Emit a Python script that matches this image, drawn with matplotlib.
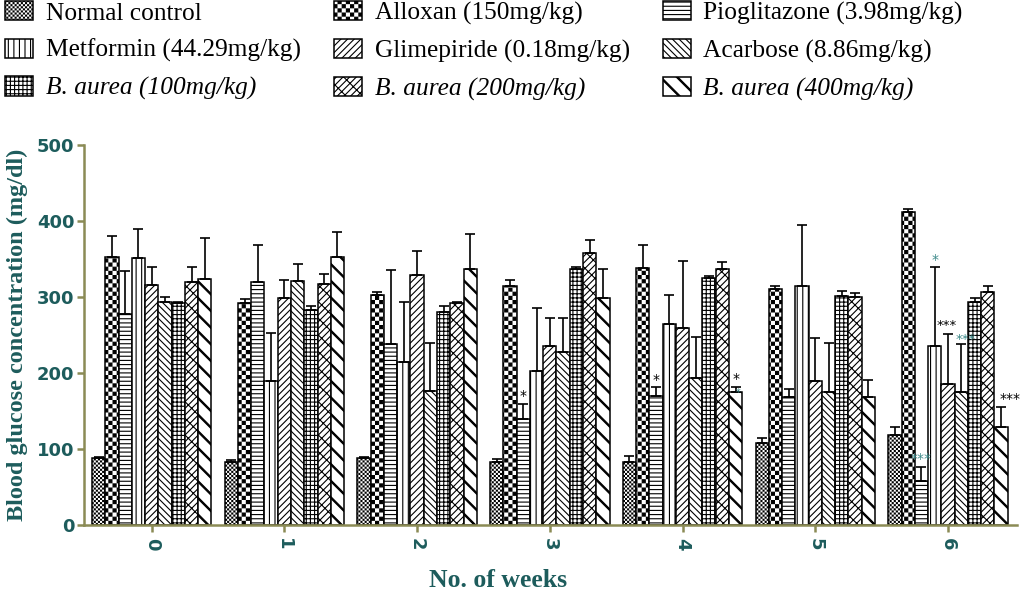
import warnings
warnings.filterwarnings("ignore")
import numpy as np
import matplotlib
matplotlib.use("Agg")
import matplotlib.pyplot as plt
import matplotlib.hatch as mhatch
from matplotlib.path import Path

# ---------------- data ----------------
weeks = [0, 1, 2, 3, 4, 5, 6]
week_labels = ["0", "1", "2", "3", "4", "5", "6"]
series_names = ["Normal control", "Alloxan (150mg/kg)", "Pioglitazone (3.98mg/kg)",
                "Metformin (44.29mg/kg)", "Glimepiride (0.18mg/kg)", "Acarbose (8.86mg/kg)",
                "B. aurea (100mg/kg)", "B. aurea (200mg/kg)", "B. aurea (400mg/kg)"]
normal_control = [88, 83, 88, 83, 83, 108, 118]
alloxan = [352, 292, 303, 315, 338, 311, 412]
pioglitazone = [277, 320, 238, 139, 170, 169, 58]
metformin = [351, 190, 214, 203, 265, 314, 235]
glimepiride = [316, 299, 329, 236, 259, 190, 186]
acarbose = [293, 321, 176, 228, 193, 175, 175]
b_aurea_100 = [292, 283, 280, 337, 325, 301, 293]
b_aurea_200 = [320, 317, 292, 358, 337, 300, 306]
b_aurea_400 = [324, 353, 337, 299, 175, 168, 129]

normal_control_err = [2, 2, 2, 4, 8, 6, 11]
alloxan_err = [28, 5, 4, 7, 30, 3, 4]
pioglitazone_err = [57, 48, 98, 20, 11, 10, 18]
metformin_err = [38, 63, 80, 83, 38, 81, 104]
glimepiride_err = [23, 24, 31, 36, 89, 56, 65]
acarbose_err = [7, 22, 63, 44, 54, 65, 63]
b_aurea_100_err = [2, 5, 8, 2, 3, 7, 6]
b_aurea_200_err = [20, 13, 2, 17, 9, 5, 8]
b_aurea_400_err = [54, 32, 46, 38, 7, 23, 26]

# significance marks: (week, series index, text, colour)
sig_week = [3, 4, 4, 4, 6, 6, 6, 6, 6]
sig_series = [2, 2, 8, 8, 2, 3, 4, 5, 8]
sig_text = ["*", "*", "*", "*", "***", "*", "***", "***", "***"]
sig_color = ["black", "black", "black", "teal", "teal", "teal", "black", "teal", "black"]

means = [normal_control, alloxan, pioglitazone, metformin, glimepiride, acarbose,
         b_aurea_100, b_aurea_200, b_aurea_400]
errs = [normal_control_err, alloxan_err, pioglitazone_err, metformin_err, glimepiride_err,
        acarbose_err, b_aurea_100_err, b_aurea_200_err, b_aurea_400_err]

HATCH_LW = 0.8                     # points, used for every hatch
INSET = HATCH_LW / 144.0           # half stroke width in hatch-tile units


# ---------------- custom filled hatches ----------------
class CheckerHatch(mhatch.HatchPatternBase):
    """checkerboard: one 'c' = 6 cells per inch"""
    filled = True

    def __init__(self, hatch, density):
        n = int(hatch.count('c') * density)
        n -= n % 2
        self.n = n
        self.num_vertices = (n * n // 2) * 5 if n else 0

    def set_vertices_and_codes(self, vertices, codes):
        n = self.n
        s = 1.0 / n
        d = INSET
        k = 0
        for i in range(n):
            for j in range(n):
                if (i + j) % 2 == 0:
                    x0, y0 = i * s + d, j * s + d
                    x1, y1 = (i + 1) * s - d, (j + 1) * s - d
                    vertices[k:k + 5] = [[x0, y0], [x1, y0], [x1, y1], [x0, y1], [x0, y0]]
                    codes[k:k + 5] = [Path.MOVETO, Path.LINETO, Path.LINETO,
                                      Path.LINETO, Path.CLOSEPOLY]
                    k += 5


class ThickSEHatch(mhatch.HatchPatternBase):
    """thick back-slash stripes, same spacing as the standard '\\' hatch"""
    filled = True
    HALF = 0.012

    def __init__(self, hatch, density):
        n = int(hatch.count('d') * density)
        self.n = n
        self.num_vertices = (n + 4) * 5 if n else 0

    def set_vertices_and_codes(self, vertices, codes):
        n = self.n
        h = (self.HALF - INSET) * np.sqrt(2.0)
        k = 0
        for m in range(-1, n + 3):
            c = 2.0 * m / n
            xa, xb = -0.2, 1.2
            pts = [[xa, c - xa - h], [xb, c - xb - h], [xb, c - xb + h],
                   [xa, c - xa + h], [xa, c - xa - h]]
            vertices[k:k + 5] = pts
            codes[k:k + 5] = [Path.MOVETO, Path.LINETO, Path.LINETO,
                              Path.LINETO, Path.CLOSEPOLY]
            k += 5


mhatch._hatch_types.append(CheckerHatch)
mhatch._hatch_types.append(ThickSEHatch)

plt.rcParams['hatch.linewidth'] = HATCH_LW
plt.rcParams['hatch.color'] = 'black'

TEAL = "#1d5c5c"
TEAL_LIGHT = "#3d8a8a"
OLIVE = "#8b8b55"

hatches = ["cccccccc", "cccc", "----", "|||", "/////", "\\\\\\\\\\", "++++",
           "/////\\\\", "dd"]

fig = plt.figure(figsize=(10.21, 5.96), dpi=100)
ax = fig.add_axes([84 / 1021, 1 - 525 / 596, (1017 - 84) / 1021, (525 - 145) / 596])

x = np.arange(len(weeks))
w = 0.1
handles = []
for i in range(9):
    bars = ax.bar(x + (i - 4) * w, means[i], width=w, color='white', edgecolor='black',
                  linewidth=1.1, hatch=hatches[i], label=series_names[i], zorder=2)
    ax.errorbar(x + (i - 4) * w, means[i],
                yerr=[np.zeros(len(weeks)), errs[i]], fmt='none', ecolor='black',
                elinewidth=1.2, capsize=3.5, capthick=1.2, zorder=3)
    handles.append(bars)

# significance marks
for wk, si, txt, col in zip(sig_week, sig_series, sig_text, sig_color):
    xi = wk + (si - 4) * w
    top = means[si][wk] + errs[si][wk]
    c = 'black' if col == 'black' else TEAL_LIGHT
    fs = 10
    ybase = top + 1
    if si == 8 and txt == "***":
        xi += 0.07
    if si == 5 and txt == "***":
        xi += 0.03
        ybase = top - 2
        fs = 9.5
    if si == 4 and txt == "***":
        xi -= 0.01
        ybase = top + 3
        fs = 9.5
    if col == 'teal' and si == 8:
        xi += 0.015
        ybase = means[si][wk] - 8
        fs = 7
    ax.text(xi, ybase, txt, ha='center', va='bottom', color=c, fontsize=fs,
            family='DejaVu Sans', zorder=4)

ax.set_xlim(-0.51, 6.52)
ax.set_ylim(0, 500)
ax.set_yticks([0, 100, 200, 300, 400, 500])
ax.set_xticks(x)
ax.set_xticklabels(week_labels, rotation=270)
ax.tick_params(axis='both', colors=OLIVE, length=5, width=1.8, direction='out')
ax.tick_params(axis='y', pad=2)
ax.tick_params(axis='x', pad=4)
for lab in ax.get_xticklabels() + ax.get_yticklabels():
    lab.set_fontweight('bold')
    lab.set_fontsize(13)
    lab.set_color(TEAL)
    lab.set_family('DejaVu Sans')
for s in ['top', 'right']:
    ax.spines[s].set_visible(False)
for s in ['left', 'bottom']:
    ax.spines[s].set_color(OLIVE)
    ax.spines[s].set_linewidth(1.8)

ax.set_ylabel("Blood glucose concentration (mg/dl)", family='Liberation Serif',
              fontweight='bold', fontsize=17.5, color=TEAL, labelpad=6)
ax.set_xlabel("No. of weeks", family='Liberation Serif', fontweight='bold',
              fontsize=18.5, color=TEAL)
ax.xaxis.set_label_coords((498 - 84) / (1017 - 84), -0.117)

order = [0, 3, 6, 1, 4, 7, 2, 5, 8]
leg = fig.legend([handles[k] for k in order], [series_names[k] for k in order],
                 loc='upper left', bbox_to_anchor=(4 / 1021, 1.0), ncol=3, frameon=False,
                 prop={'family': 'Liberation Serif', 'size': 18.3},
                 handlelength=1.1, handleheight=0.78, handletextpad=0.5,
                 columnspacing=1.3, labelspacing=0.55, borderaxespad=0.0, borderpad=0.05)
for t in leg.get_texts():
    if t.get_text().startswith("B. aurea"):
        t.set_fontstyle('italic')

fig.savefig("out.png", dpi=100)
